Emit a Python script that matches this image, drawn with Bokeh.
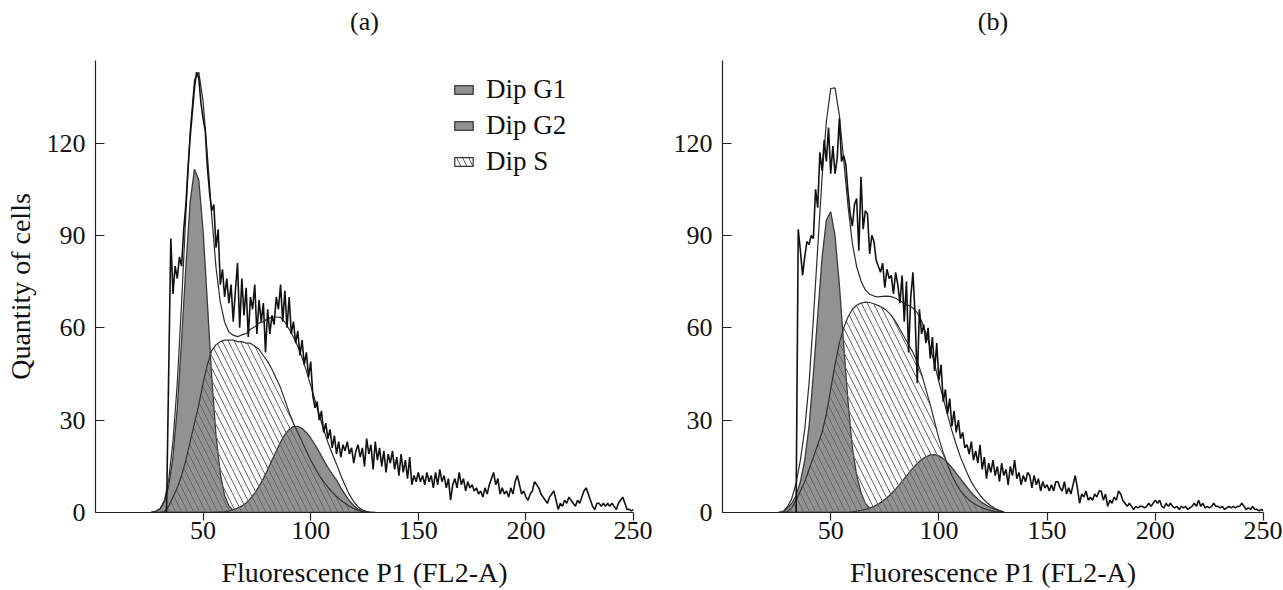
from bokeh.plotting import figure
from bokeh.layouts import row
from bokeh.models import FixedTicker, Range1d, LinearAxis
from bokeh.embed import file_html
from bokeh.resources import INLINE

FONT = "Liberation Serif"

# ---------------- data ----------------
x_model = list(range(26, 131, 2))

a_g1 = [0.1, 0.4, 1.2, 3.5, 8.5, 18, 34, 56, 80, 101,
        111.5, 108, 91.5, 68, 44, 25, 12.6, 5.5, 2.1, 0.7,
        0.2, 0.05] + [0] * 31
a_s = [0, 0, 0, 0.3, 2, 5, 8, 12, 17, 23,
       29, 35, 42, 48, 52.5, 54.5, 55.5, 56, 56, 56,
       55.5, 55.5, 55, 55, 54, 53, 51, 49, 46.5, 43.5,
       40.5, 36.5, 32.5, 29, 26, 23, 20, 17, 14.5, 12,
       10, 8.2, 6.6, 5.2, 4, 3, 2, 1.3, 0.7, 0.3,
       0.1, 0, 0]
a_g2 = [0] * 15 + [0.1, 0.2, 0.3, 0.5, 0.9, 1.4, 2.1, 3.1, 4.5, 6.3,
                   8.5, 11, 13.9, 17, 20, 22.9, 25.3, 27, 27.9, 28,
                   27.3, 26, 24.2, 22, 19.6, 17, 14.6, 12.5, 10.5, 8,
                   5.8, 3.8, 2.2, 1.1, 0.5, 0.2, 0, 0]
a_total = [0.1, 0.4, 1.2, 3.8, 10.5, 23, 42, 68, 97, 124,
           140.5, 143, 133.5, 116, 96.5, 79.6, 68.3, 61.8, 58.6, 57.6,
           57.1, 57.7, 58.1, 59.5, 60.3, 61.5, 62, 62.9, 63.5, 63.5,
           63.4, 61.8, 59.5, 56.9, 54, 50.3, 46, 41.2, 36.5, 31.6,
           27, 22.8, 19.1, 15.7, 12, 8.8, 5.8, 3.5, 1.8, 0.8,
           0.3, 0, 0]

b_g1 = [0.05, 0.3, 1.5, 3, 5.5, 10, 17, 28, 45, 64,
        82.7, 95, 97.7, 89.9, 74, 54.5, 36, 21.2, 12, 6.5,
        3, 1.3, 0.5, 0.1] + [0] * 29
b_s = [0, 0, 0.3, 1.5, 4, 7, 10, 14, 18, 22,
       26, 32, 40, 48, 55, 60, 63.5, 66, 67.3, 68,
       68.3, 68.2, 67.8, 67.2, 66.5, 65.5, 64, 62, 59.5, 57,
       54.5, 52, 49, 45, 40, 35, 29.5, 24, 19.5, 15.5,
       12, 9.3, 7, 5.4, 4, 3, 2.2, 1.5, 1, 0.6,
       0.3, 0.1, 0]
b_g2 = [0] * 17 + [0.3, 0.45, 0.7, 1, 1.4, 2, 2.7, 3.7, 4.8, 6.1,
                   7.6, 9.2, 11, 12.7, 14.4, 15.9, 17.2, 18.1, 18.7, 18.8,
                   18.4, 17.5, 16.2, 14.6, 12.8, 10.9, 9.1, 7.3, 5.7, 4.4,
                   3.2, 2.3, 1.6, 1, 0.5, 0.2]
b_total = [0.05, 0.3, 1.8, 4.5, 9.5, 17, 27, 42, 63, 86,
           108.7, 127, 137.7, 137.9, 129, 114.5, 99.5, 87.5, 79.8, 75.2,
           72.3, 70.9, 70.3, 70, 70.2, 70.3, 70.1, 69.6, 68.7, 68,
           67.2, 66.4, 64.9, 62.2, 58.1, 53.7, 48.3, 42.4, 37, 31.7,
           26.6, 22.1, 17.9, 14.5, 11.3, 8.7, 6.6, 4.7, 3.3, 2.2,
           1.3, 0.6, 0.2]

raw_x_a = list(range(33, 251))
raw_a = [0, 45, 89, 71, 80, 76, 83,
         80, 92, 100, 112, 122, 130, 138, 143, 141, 133,
         128, 124, 112, 104, 98, 100, 86, 92, 74, 79,
         70, 76, 68, 74, 62, 72, 81, 60, 76, 64,
         73, 57, 70, 66, 74, 58, 69, 62, 68, 52,
         66, 58, 64, 61, 70, 66, 74, 62, 72, 60,
         70, 58, 62, 55, 59, 51, 56, 48, 52, 44,
         49, 38, 34, 36, 30, 33, 26, 29, 24, 27,
         21, 25, 19, 23, 18, 22, 20, 23, 19, 21,
         16, 20, 22, 18, 21, 15, 24, 19, 22, 14,
         23, 17, 21, 15, 20, 13, 19, 16, 20, 14,
         18, 12, 19, 13, 17, 11, 18, 9, 12, 10,
         13, 10, 12, 9, 13, 10, 12, 8, 13, 9,
         14, 10, 12, 8, 11, 4, 9, 11, 8, 13,
         9, 11, 7, 10, 8, 9, 7, 8, 6, 7,
         5, 8, 6, 9, 11, 13, 9, 11, 6, 8,
         6, 7, 5, 8, 6, 10, 12, 9, 6, 7,
         5, 4, 6, 7, 10, 9, 8, 6, 5, 4,
         3, 5, 6, 7, 4, 1, 3, 2, 4, 3,
         5, 4, 3, 2, 4, 3, 5, 7, 8, 6,
         4, 2, 1, 3, 3, 2, 3, 2, 3, 2,
         3, 2, 1, 3, 4, 5, 3, 1, 1, 0.5, 1]

raw_x_b = list(range(34, 251))
raw_b = [0, 92, 85, 77, 83, 88,
         87, 90, 89, 105, 99, 117, 111, 121, 114, 125,
         110, 119, 110, 115, 128, 114, 116, 113, 104, 97,
         93, 100, 102, 85, 109, 92, 98, 97, 84, 90,
         88, 82, 80, 78, 81, 73, 79, 76, 77, 71,
         78, 74, 68, 77, 62, 75, 52, 70, 78, 64,
         42, 66, 58, 61, 55, 60, 50, 57, 46, 55,
         43, 48, 36, 40, 32, 37, 28, 33, 26, 30,
         24, 26, 21, 22, 19, 23, 17, 20, 16, 22,
         14, 18, 11, 16, 13, 17, 12, 15, 10, 16,
         12, 14, 9, 15, 12, 17, 11, 13, 9, 12,
         10, 13, 12, 8, 12, 9, 11, 7, 10, 8,
         9, 7, 9, 7, 10, 10, 8, 7, 10, 6,
         8, 6, 9, 12, 8, 3, 6, 5, 7, 4,
         5, 4, 6, 5, 7, 7, 4, 6, 2, 4,
         3, 5, 4, 7, 6, 4, 3, 2, 3, 2,
         1, 2, 1.5, 2, 2, 1.5, 2, 3, 2, 3,
         4, 3, 4, 2, 1.5, 3, 2, 3, 2, 1.5,
         2, 1, 2, 1.5, 2, 1, 1.5, 2, 3, 2,
         4, 2, 3, 1.5, 2, 1.5, 2, 3, 2, 2,
         1.5, 2, 1, 1.5, 2, 1.5, 2, 1.5, 2, 2,
         3, 2, 1, 1.5, 1, 2, 1, 1, 0.5, 1, 0.5]

x_ticks = [50, 100, 150, 200, 250]
y_ticks = [0, 30, 60, 90, 120]
labels = ["Dip G1", "Dip G2", "Dip S"]

GREY = "#929292"


def closed(xs, ys):
    return xs + [xs[-1], xs[0]], ys + [0, 0]


def make_panel(title, g1, g2, s, total, rx, ry, width, left, right, ylabel, legend):
    p = figure(width=width, height=590, x_range=Range1d(0, 250), y_range=Range1d(0, 146.8),
               output_backend="svg", toolbar_location=None, title=None,
               min_border_left=left, min_border_right=right,
               min_border_top=60, min_border_bottom=75)
    p.grid.visible = False
    p.outline_line_color = None

    # bottom / left axes (configured directly, before any extra axis is added)
    xax = p.below[0]
    yax = p.left[0]
    xax.ticker = FixedTicker(ticks=x_ticks, minor_ticks=[])
    yax.ticker = FixedTicker(ticks=y_ticks, minor_ticks=[])
    for ax in (xax, yax):
        ax.axis_line_color = "#222222"
        ax.axis_line_width = 1.2
        ax.major_tick_line_color = "#222222"
        ax.major_tick_line_width = 1.2
        ax.major_label_text_font = FONT
        ax.major_label_text_font_size = "26px"
        ax.major_label_text_color = "#111111"
        ax.axis_label_text_font = FONT
        ax.axis_label_text_font_size = "28px"
        ax.axis_label_text_font_style = "normal"
        ax.axis_label_text_color = "#111111"
        ax.minor_tick_in = 0
        ax.minor_tick_out = 0
    xax.major_tick_in = 0
    xax.major_tick_out = 8
    xax.major_label_standoff = 1
    xax.axis_label = "Fluorescence P1 (FL2-A)"
    xax.axis_label_standoff = 15
    yax.major_tick_in = 9
    yax.major_tick_out = 0
    yax.major_label_standoff = 10
    if ylabel:
        yax.axis_label = ylabel
        yax.axis_label_standoff = 8

    # panel caption: an above-axis with no ticks, only its label
    cap = LinearAxis(axis_label=title, ticker=FixedTicker(ticks=[], minor_ticks=[]),
                     axis_line_color=None, major_tick_in=0, major_tick_out=0,
                     minor_tick_in=0, minor_tick_out=0,
                     major_label_text_font=FONT,
                     axis_label_standoff=25, axis_label_text_font=FONT,
                     axis_label_text_font_size="26px", axis_label_text_font_style="normal",
                     axis_label_text_color="#111111")
    p.add_layout(cap, "above")

    kw1 = dict(legend_label=labels[0]) if legend else {}
    kw2 = dict(legend_label=labels[1]) if legend else {}
    kw3 = dict(legend_label=labels[2]) if legend else {}
    xs, ys = closed(x_model, g1)
    p.patch(xs, ys, fill_color=GREY, line_color="#3a3a3a", line_width=1.3, **kw1)
    xs, ys = closed(x_model, g2)
    p.patch(xs, ys, fill_color=GREY, line_color="#3a3a3a", line_width=1.3, **kw2)
    xs, ys = closed(x_model, s)
    p.patch(xs, ys, fill_color=None, hatch_pattern="\\", hatch_color="#666666",
            hatch_scale=12, hatch_weight=1, line_color="#333333", line_width=1.2, **kw3)
    p.line(x_model, total, line_color="#2a2a2a", line_width=1.2)
    p.line(rx, ry, line_color="#111111", line_width=1.6)

    if legend:
        lg = p.legend[0]
        lg.location = (353, 331)
        lg.border_line_alpha = 0
        lg.background_fill_alpha = 0
        lg.label_text_font = FONT
        lg.label_text_font_size = "27px"
        lg.label_text_color = "#111111"
        lg.glyph_width = 23
        lg.glyph_height = 11
        lg.spacing = 5
        lg.label_standoff = 11
        lg.padding = 4
        lg.margin = 0
    return p


pa = make_panel("(a)", a_g1, a_g2, a_s, a_total, raw_x_a, raw_a, 652, 95, 19,
                "Quantity of cells", True)
pb = make_panel("(b)", b_g1, b_g2, b_s, b_total, raw_x_b, raw_b, 630, 70, 19,
                None, False)

layout = row(pa, pb)
open("out.html", "w").write(file_html(layout, INLINE))
